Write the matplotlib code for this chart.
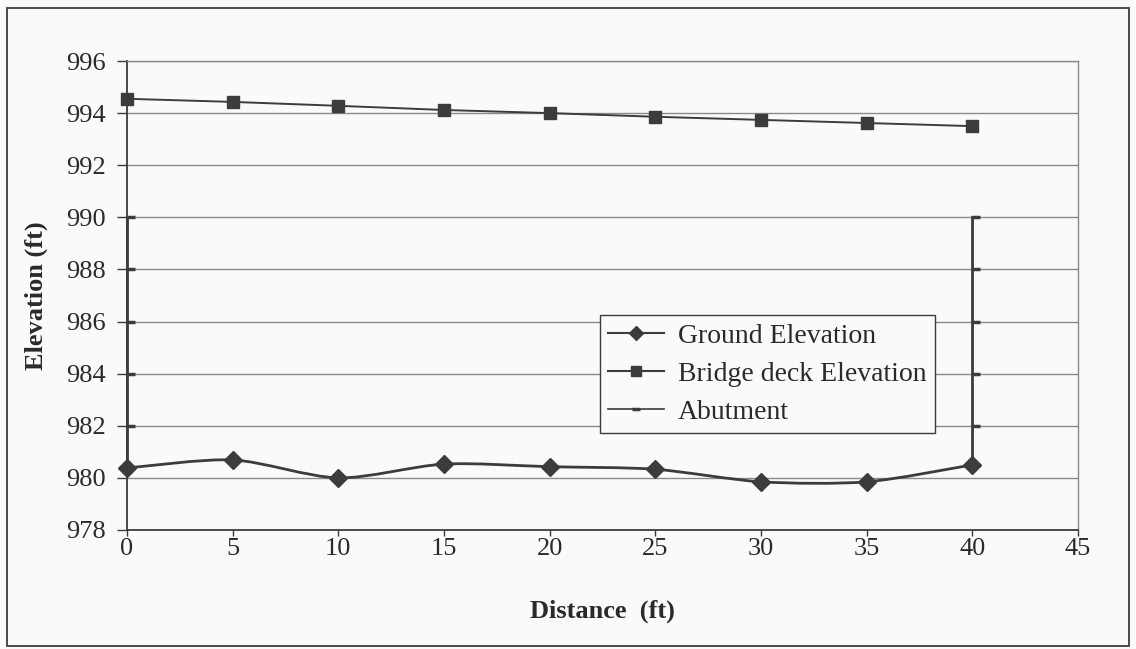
import numpy as np
import matplotlib
matplotlib.use("Agg")
import matplotlib.pyplot as plt
from matplotlib.path import Path
from matplotlib.patches import PathPatch, Rectangle
from matplotlib.lines import Line2D

# Station along the bridge (ft)
distance = [0, 5, 10, 15, 20, 25, 30, 35, 40]
ground_elev = [980.38, 980.69, 980.0, 980.53, 980.43, 980.33, 979.85, 979.85, 980.5]
deck_elev = [994.55, 994.43, 994.28, 994.12, 994.0, 993.86, 993.74, 993.62, 993.5]

# Abutment walls at both ends of the span
abut_x = [0, 0, 0, 0, 0, 0, np.nan, 40, 40, 40, 40, 40, 40]
abut_y = [980.38, 982, 984, 986, 988, 990, np.nan, 980.5, 982, 984, 986, 988, 990]

x_ticks = [0, 5, 10, 15, 20, 25, 30, 35, 40, 45]
y_ticks = [978, 980, 982, 984, 986, 988, 990, 992, 994, 996]

ink = "#3c3c3c"
grid_c = "#8a8a8a"
text_c = "#2a2a2a"
serif = ["Liberation Serif", "DejaVu Serif"]

fig = plt.figure(figsize=(11.36, 6.49), dpi=100)
fig.patch.set_facecolor("#fafafa")
ax = fig.add_axes([127 / 1136, 1 - 530 / 649, (1078 - 127) / 1136, (530 - 61) / 649])
ax.set_facecolor("#fafafa")

# Outer chart frame
fig.patches.append(Rectangle((7 / 1136, 1 - 646 / 649), (1129 - 7) / 1136, (646 - 8) / 649,
                             transform=fig.transFigure, fill=False, edgecolor=ink, lw=1.3))


def smooth_path(xs, ys, tension=1 / 6):
    """Catmull-Rom style cubic Bezier through the given points."""
    pts = np.column_stack([xs, ys]).astype(float)
    n = len(pts)
    verts = [pts[0]]
    codes = [Path.MOVETO]
    for i in range(n - 1):
        p0 = pts[i - 1] if i > 0 else pts[i]
        p1 = pts[i]
        p2 = pts[i + 1]
        p3 = pts[i + 2] if i + 2 < n else pts[i + 1]
        c1 = p1 + (p2 - p0) * tension
        c2 = p2 - (p3 - p1) * tension
        verts += [c1, c2, p2]
        codes += [Path.CURVE4] * 3
    return Path(verts, codes)


# Half-dash marker that sits on the right of its point
right_dash = Path([(0, 0), (1, 0)], [Path.MOVETO, Path.LINETO])

ax.set_xlim(0, 45)
ax.set_ylim(978, 996)

# Ground elevation: smoothed line with diamond markers
ax.add_patch(PathPatch(smooth_path(distance, ground_elev, 0.14), fill=False, edgecolor=ink, lw=2.0, zorder=3))
ax.plot(distance, ground_elev, linestyle="none", marker="D", markersize=9, color=ink, zorder=4,
        clip_on=False)

# Bridge deck elevation
ax.plot(distance, deck_elev, color=ink, lw=1.4, marker="s", markersize=8.5, zorder=3, clip_on=False)

# Abutments
ax.plot(abut_x, abut_y, color=ink, lw=2.0, marker=right_dash, markersize=11, markeredgewidth=2.5,
        zorder=3, clip_on=False)

ax.set_xticks(x_ticks)
ax.set_yticks(y_ticks)
ax.yaxis.grid(True, color=grid_c, lw=1.0)
ax.set_axisbelow(True)
ax.tick_params(axis="y", direction="out", length=7, width=1, color=ink, labelsize=19, pad=8, labelcolor=text_c)
ax.tick_params(axis="x", direction="out", length=4, width=1, color=ink, labelsize=19, pad=1.5, labelcolor=text_c)
for lbl in ax.get_xticklabels() + ax.get_yticklabels():
    lbl.set_family(serif)

for side in ["top", "right"]:
    ax.spines[side].set_color(grid_c)
    ax.spines[side].set_linewidth(1.0)
for side in ["left", "bottom"]:
    ax.spines[side].set_color(ink)
    ax.spines[side].set_linewidth(1.3)

ax.set_xlabel("Distance  (ft)", family=serif, fontsize=19, fontweight="bold", color=text_c, labelpad=29)
ax.set_ylabel("Elevation (ft)", family=serif, fontsize=19, fontweight="bold", color=text_c, labelpad=13)

handles = [
    Line2D([], [], color=ink, lw=1.5, marker="D", markersize=7),
    Line2D([], [], color=ink, lw=1.5, marker="s", markersize=7),
    Line2D([], [], color=ink, lw=1.2, marker="_", markersize=6, markeredgewidth=2.5),
]
leg = ax.legend(handles, ["Ground Elevation", "Bridge deck Elevation", "Abutment"],
                loc="upper left", bbox_to_anchor=((600 - 127) / 951, (530 - 315) / 469),
                prop={"family": serif, "size": 20}, frameon=True, fancybox=False,
                edgecolor=ink, framealpha=1, facecolor="#fafafa", borderpad=0.3,
                handlelength=2.0, handletextpad=0.5, labelspacing=0.45, borderaxespad=0)
leg.get_frame().set_linewidth(1.0)
for t in leg.get_texts():
    t.set_color(text_c)

fig.savefig("out.png", dpi=100, facecolor=fig.get_facecolor())
